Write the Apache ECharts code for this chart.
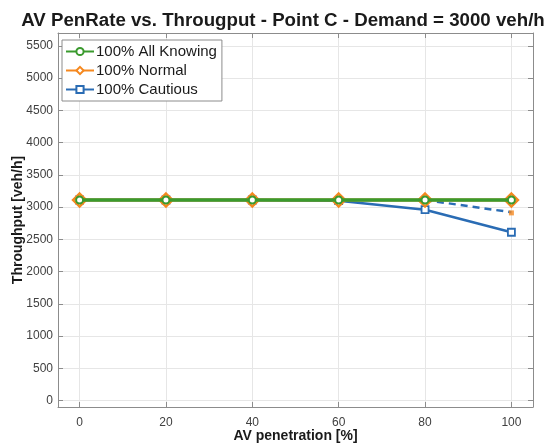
<!DOCTYPE html>
<html>
<head>
<meta charset="utf-8">
<script src="https://cdn.jsdelivr.net/npm/echarts@6/dist/echarts.min.js"></script>
<style>
  html, body { margin: 0; padding: 0; background: #fff; }
  #chart { width: 548px; height: 446px; }
</style>
</head>
<body>
<div id="chart"></div>
<script>
const penetration = [0, 20, 40, 60, 80, 100]
const allKnowing = [3110, 3110, 3110, 3110, 3110, 3110]
const normal = [3110, 3110, 3110, 3110, 3110, 3110]
const cautious = [3110, 3110, 3110, 3100, 2960, 2610]
// dashed branch from 80 to 100, with its small orange end point
const dashedX = [80, 100]
const dashedY = [3110, 2920]
const endPointX = [100]
const endPointY = [2910]
const xTicks = [0, 20, 40, 60, 80, 100]
const yTicks = [0, 500, 1000, 1500, 2000, 2500, 3000, 3500, 4000, 4500, 5000, 5500]

const GREEN = '#3a9a2e'
const ORANGE = '#f5881f'
const BLUE = '#2a6cb4'
const FONT = 'Liberation Sans, Arial, sans-serif'

const pairs = (xs, ys) => xs.map((x, i) => [x, ys[i]])

const chart = echarts.init(document.getElementById('chart'), null, { renderer: 'canvas' })

const gridLine = { show: true, lineStyle: { color: '#e6e6e6', width: 1 } }
const boxLine = { show: true, onZero: false, lineStyle: { color: '#8c8c8c', width: 1 } }
const tick = (vals) => ({ show: true, inside: true, length: 5, lineStyle: { color: '#8c8c8c' }, customValues: vals })

chart.setOption({
  animation: false,
  textStyle: { fontFamily: FONT },
  title: {
    text: 'AV PenRate vs. Througput - Point C - Demand = 3000 veh/h',
    left: 278,
    textAlign: 'center',
    top: 6,
    textStyle: { fontSize: 18.7, fontWeight: 'bold', color: '#1a1a1a', fontFamily: FONT }
  },
  legend: {
    left: 62,
    top: 40,
    orient: 'vertical',
    data: ['100% All Knowing', '100% Normal', '100% Cautious'],
    backgroundColor: '#fff',
    borderColor: '#8c8c8c',
    borderWidth: 1,
    padding: [2, 5, 2, 3],
    itemGap: 0,
    itemWidth: 28,
    itemHeight: 9,
    textStyle: { fontSize: 15, color: '#1a1a1a', padding: [2, 0, 0, -3], lineHeight: 17 }
  },
  grid: { left: 58, right: 15, top: 33, bottom: 39, outerBoundsMode: 'none' },
  xAxis: [{
    type: 'value',
    min: -5,
    max: 105,
    name: 'AV penetration [%]',
    nameLocation: 'middle',
    nameGap: 22,
    nameMoveOverlap: false,
    nameTextStyle: { fontSize: 14, fontWeight: 'bold', color: '#1a1a1a' },
    axisLine: boxLine,
    axisTick: tick(xTicks),
    axisLabel: { color: '#404040', fontSize: 12, margin: 10, customValues: xTicks },
    splitLine: gridLine
  }, {
    type: 'value',
    position: 'top',
    min: -5,
    max: 105,
    axisLine: boxLine,
    axisTick: tick(xTicks),
    axisLabel: { show: false },
    splitLine: { show: false }
  }],
  yAxis: [{
    type: 'value',
    min: -100,
    max: 5700,
    name: 'Throughput [veh/h]',
    nameLocation: 'middle',
    nameGap: 33,
    nameMoveOverlap: false,
    nameTextStyle: { fontSize: 14, fontWeight: 'bold', color: '#1a1a1a' },
    axisLine: boxLine,
    axisTick: tick(yTicks),
    axisLabel: { color: '#404040', fontSize: 12, margin: 5, customValues: yTicks, formatter: (v) => String(v) },
    splitLine: gridLine
  }, {
    type: 'value',
    position: 'right',
    min: -100,
    max: 5700,
    axisLine: boxLine,
    axisTick: tick(yTicks),
    axisLabel: { show: false },
    splitLine: { show: false }
  }],
  series: [
    {
      name: '100% Cautious',
      type: 'line',
      z: 2,
      data: pairs(penetration, cautious),
      symbol: 'rect',
      symbolSize: 7,
      lineStyle: { color: BLUE, width: 2.5 },
      itemStyle: { color: '#fff', borderColor: BLUE, borderWidth: 1.8 }
    },
    {
      name: 'dashed',
      type: 'line',
      z: 2,
      data: pairs(dashedX, dashedY),
      showSymbol: false,
      symbol: 'none',
      lineStyle: { color: BLUE, width: 2.5, type: [7, 5] }
    },
    {
      name: 'end',
      type: 'scatter',
      z: 3,
      data: pairs(endPointX, endPointY),
      symbol: 'rect',
      symbolSize: 5,
      itemStyle: { color: ORANGE }
    },
    {
      name: '100% Normal',
      type: 'line',
      z: 3,
      data: pairs(penetration, normal),
      symbol: 'diamond',
      symbolSize: 13,
      lineStyle: { color: ORANGE, width: 3 },
      itemStyle: { color: '#fff', borderColor: ORANGE, borderWidth: 2.5 }
    },
    {
      name: '100% All Knowing',
      type: 'line',
      z: 4,
      data: pairs(penetration, allKnowing),
      symbol: 'circle',
      symbolSize: 7,
      lineStyle: { color: GREEN, width: 3.5 },
      itemStyle: { color: '#fff', borderColor: GREEN, borderWidth: 2 }
    }
  ]
})
</script>
</body>
</html>
